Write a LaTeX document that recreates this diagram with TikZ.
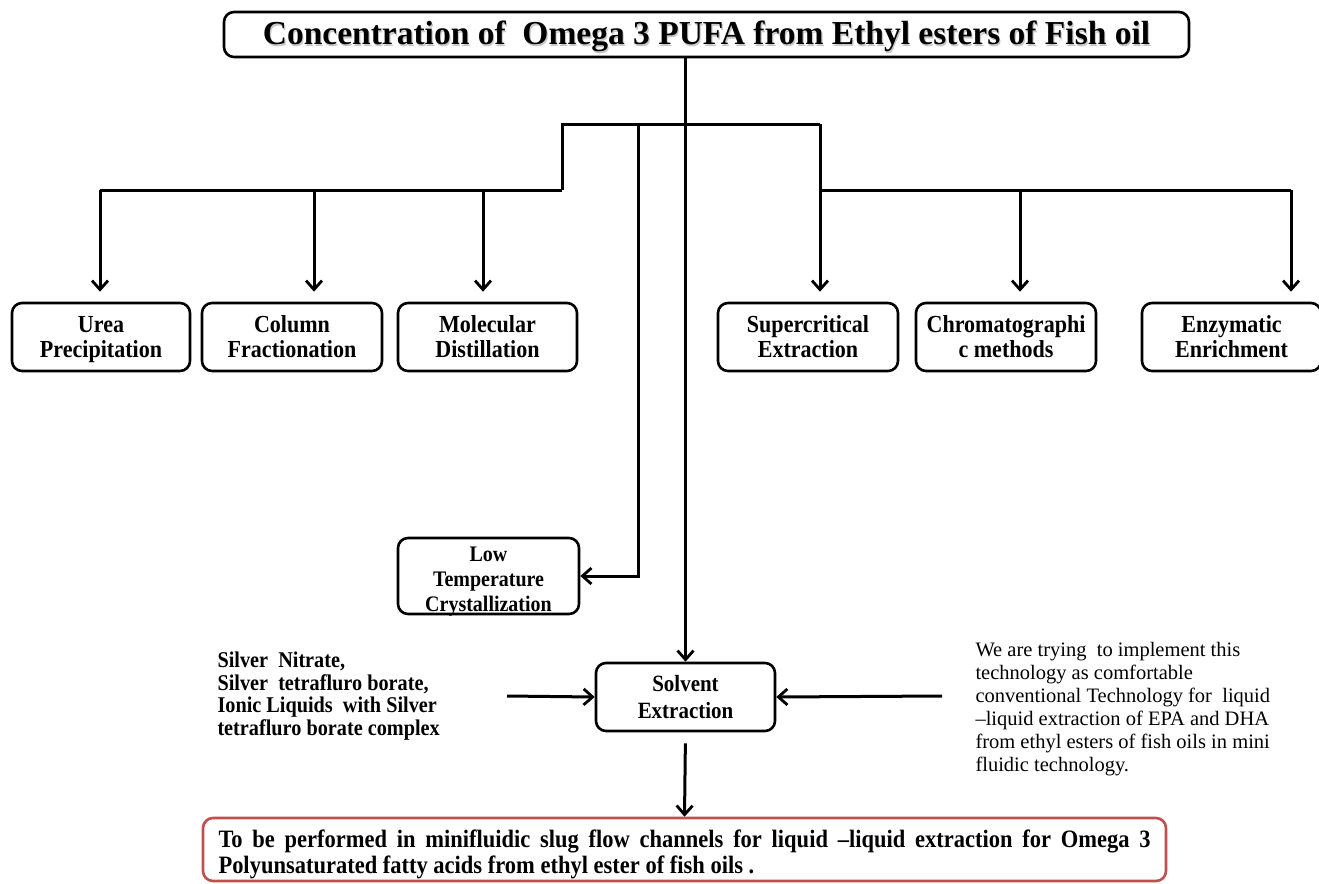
\documentclass[tikz,border=0pt]{standalone}
\usepackage{fontspec}
\setmainfont{Liberation Serif}
\newfontfamily\narrow[FakeStretch=0.9,Ligatures=TeX]{Liberation Serif}
\usetikzlibrary{arrows.meta}
\definecolor{boxred}{RGB}{192,80,77}
\newcommand{\titletext}{\tp[28.5pt]Concentration of\ \ Omega 3 PUFA from Ethyl esters of Fish oil\bt[7.5pt]}
% invisible rules that fix the height of a first line and the depth of a last line
\newcommand{\tp}[1][22pt]{\rule{0pt}{#1}}
\newcommand{\bt}[1][6pt]{\rule[-#1]{0pt}{0pt}}
\begin{document}
\begin{tikzpicture}[x=1pt,y=-1pt,
  line width=3pt,
  stepbox/.style={draw, rounded corners=10pt, line width=2.6pt, align=center,
    inner sep=0pt, font=\narrow\bfseries\fontsize{24.5}{25}\selectfont},
  arr/.style={-{Straight Barb[length=9pt,width=16pt,line width=2.8pt]}},
  link/.style={line width=3pt}]
\useasboundingbox (0,0) rectangle (1319,883);

% title with its soft text shadow
\node[inner sep=0pt, text=black!22, font=\bfseries\fontsize{33.5}{36}\selectfont]
  (titleshadow) at (707.7,35.7) {\titletext};
\node[stepbox, minimum width=965pt, minimum height=45pt,
  font=\bfseries\fontsize{33.5}{36}\selectfont] (title) at (706.5,34.5) {\titletext};

% method boxes
\node[stepbox, minimum width=178pt, minimum height=68pt] (urea) at (101,337) {\tp Urea\\Precipitation\bt};
\node[stepbox, minimum width=180pt, minimum height=68pt] (column) at (292,337) {\tp Column\\Fractionation\bt};
\node[stepbox, minimum width=179pt, minimum height=68pt] (molec) at (487.5,337) {\tp Molecular\\Distillation\bt};
\node[stepbox, minimum width=180pt, minimum height=68pt] (super) at (808,337) {\tp Supercritical\\Extraction\bt};
\node[stepbox, minimum width=180pt, minimum height=68pt] (chrom) at (1006,337) {\tp Chromatographi\\c methods\bt};
\node[stepbox, minimum width=179pt, minimum height=68pt] (enzym) at (1231.5,337) {\tp Enzymatic\\Enrichment\bt};

\node[stepbox, minimum width=181pt, minimum height=76pt,
  font=\narrow\bfseries\fontsize{22.2}{25}\selectfont] (lowtemp) at (488.5,576)
  {\tp Low\\Temperature\\\smash{Crystallization}\bt[2pt]};

\node[stepbox, minimum width=179pt, minimum height=68pt,
  font=\narrow\bfseries\fontsize{23.3}{27}\selectfont] (solvent) at (685.5,697)
  {\tp Solvent\\Extraction\bt};

\node[stepbox, draw=boxred, minimum width=963pt, minimum height=63pt,
  text width=932pt, align=justify,
  font=\narrow\bfseries\fontsize{25}{26}\selectfont] (final) at (684.5,849.5)
  {\tp[27pt]To be performed in minifluidic slug flow channels for liquid –liquid extraction for Omega 3\linebreak
   Polyunsaturated fatty acids from ethyl ester of fish oils .\bt};

% side notes
\node[anchor=west, align=left, inner sep=0pt,
  font=\narrow\bfseries\fontsize{22.5}{22.5}\selectfont] (silver) at (216,696)
  {Silver\ \ Nitrate,\\Silver\ \ tetrafluro borate,\\Ionic Liquids\ \ with Silver\\tetrafluro borate complex};
\node[anchor=north west, align=left, inner sep=0pt,
  font=\fontsize{20.5}{23}\selectfont] (note) at (974,641)
  {We are trying\ \ to implement this\\technology as comfortable\\conventional Technology for\ \ liquid\\–liquid extraction of EPA\ and DHA\\from ethyl esters of fish oils in mini\\fluidic technology.};

% branching points
\coordinate (barL) at (562,124);
\coordinate (barR) at (820,124);
\coordinate (hubL) at (562,190);
\coordinate (hubR) at (820,190);
\coordinate (c1) at (100,190);
\coordinate (c2) at (314,190);
\coordinate (c3) at (483,190);
\coordinate (c5) at (1020,190);
\coordinate (c6) at (1291,190);
\coordinate (lt) at (638,124);
\coordinate (silverEnd) at (507,696);
\coordinate (noteEnd) at (942,696);

% trunk and bars
\draw[arr] (title.south -| solvent.north) -- (solvent.north);
\draw[link] (hubL) -- (barL) -- (barR);
\draw[link] (c1) -- (hubL);
\draw[link] (hubR) -- (c6);
\draw[arr, shorten >=10pt] (c1) -- (c1 |- urea.north);
\draw[arr, shorten >=10pt] (c2) -- (c2 |- column.north);
\draw[arr, shorten >=10pt] (c3) -- (c3 |- molec.north);
\draw[arr, shorten >=10pt] (barR) -- (barR |- super.north);
\draw[arr, shorten >=10pt] (c5) -- (c5 |- chrom.north);
\draw[arr, shorten >=10pt] (c6) -- (c6 |- enzym.north);
\draw[arr] (lt) |- (lowtemp.east);

% solvent extraction inputs and output
\draw[arr] (silverEnd) -- (solvent.west);
\draw[arr] (noteEnd) -- (solvent.east);
\draw[arr, shorten <=11pt] (solvent.south) -- (final.north);
\end{tikzpicture}
\end{document}
